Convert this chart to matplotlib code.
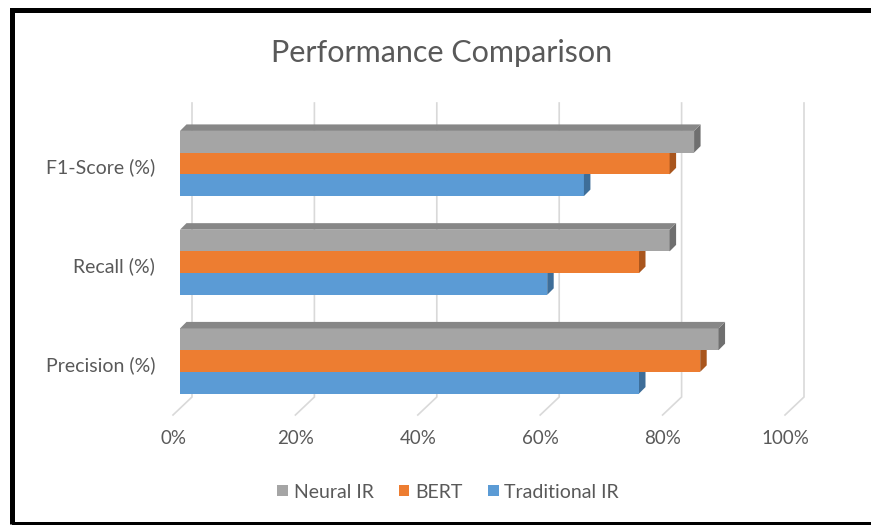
import matplotlib
matplotlib.use("Agg")
import matplotlib.pyplot as plt
import matplotlib.transforms as mtransforms
from matplotlib.patches import Polygon, Rectangle, Patch

# Data
categories = ["Precision (%)", "Recall (%)", "F1-Score (%)"]
traditional_ir = [75, 60, 66]
bert = [85, 75, 80]
neural_ir = [88, 80, 84]
x_ticks = [0, 20, 40, 60, 80, 100]
x_labels = ["0%", "20%", "40%", "60%", "80%", "100%"]

# Style
c_blue, c_blue_side = "#5B9BD5", "#3E6E99"
c_orange, c_orange_side = "#ED7D31", "#A9561E"
c_gray, c_gray_side, c_gray_top = "#A5A5A5", "#6F6F6F", "#878787"
grid_col = "#D9D9D9"
text_col = "#595959"
font = ["Lato", "DejaVu Sans"]

W, H = 871, 525
fig = plt.figure(figsize=(W / 100, H / 100), dpi=100, facecolor="white")

# pixel geometry of the plot area
px0, px100 = 180, 792          # bar front face x at 0% / 100%
sx = (px100 - px0) / 100.0     # px per percent
yc0, dy_cat = 361, 98.75       # px centre of first category, px per category
ybot_px = yc0 + dy_cat * 0.5
ytop_px = ybot_px - dy_cat * 3

ax = fig.add_axes([px0 / W, (H - ybot_px) / H, (px100 - px0) / W, (ybot_px - ytop_px) / H])
ax.set_xlim(0, 100)
ax.set_ylim(-0.5, 2.5)
ax.patch.set_alpha(0)
for s in ax.spines.values():
    s.set_visible(False)


def px_x(p):
    return p / sx


def px_y(p):
    return (yc0 - p) / dy_cat


# Back wall + floor gridlines
for v in x_ticks:
    xb = v + px_x(12)
    xf = v - px_x(7)
    ax.plot([xb, xb, xf], [px_y(103), px_y(397), px_y(415)], color=grid_col,
            lw=1.2, clip_on=False, zorder=0, solid_joinstyle="miter")

h = 0.22
ddx, ddy = px_x(6.5), 6.5 / dy_cat
series = [
    (traditional_ir, -h, c_blue, c_blue_side, "Traditional IR"),
    (bert, 0, c_orange, c_orange_side, "BERT"),
    (neural_ir, h, c_gray, c_gray_side, "Neural IR"),
]
ypos = list(range(len(categories)))
z = 2
for vals, off, col, side, name in series:
    ys = [y + off for y in ypos]
    ax.barh(ys, vals, height=h, color=col, zorder=z, linewidth=0)
    for y, v in zip(ys, vals):
        lo, hi = y - h / 2, y + h / 2
        ax.add_patch(Polygon([(v, lo), (v + ddx, lo + ddy), (v + ddx, hi + ddy), (v, hi)],
                             closed=True, facecolor=side, edgecolor="none", zorder=z))
        if name == "Neural IR":
            ax.add_patch(Polygon([(0, hi), (ddx, hi + ddy), (v + ddx, hi + ddy), (v, hi)],
                                 closed=True, facecolor=c_gray_top, edgecolor="none", zorder=z))
    z += 1

# Ticks
ax.set_xticks(x_ticks)
ax.set_xticklabels(x_labels)
ax.set_yticks(ypos)
ax.set_yticklabels(categories)
ax.tick_params(axis="both", length=0, colors=text_col)
ax.tick_params(axis="x", pad=14, labelsize=13.5)
ax.tick_params(axis="y", pad=18, labelsize=14)
for lab in ax.get_xticklabels():
    lab.set_fontfamily(font)
    lab.set_transform(lab.get_transform() + mtransforms.ScaledTranslation(-7 / 100, 0, fig.dpi_scale_trans))
for lab in ax.get_yticklabels():
    lab.set_fontfamily(font)
    lab.set_transform(lab.get_transform() + mtransforms.ScaledTranslation(0, -2.5 / 100, fig.dpi_scale_trans))

# Title
fig.text(442 / W, 1 - 53 / H, "Performance Comparison", ha="center", va="center",
         fontsize=22, color=text_col, family=font)

# Legend
handles = [Patch(facecolor=c_gray, label="Neural IR"),
           Patch(facecolor=c_orange, label="BERT"),
           Patch(facecolor=c_blue, label="Traditional IR")]
leg = fig.legend(handles=handles, loc="center", bbox_to_anchor=(448 / W, 1 - 492 / H),
                 ncol=3, frameon=False, handlelength=0.55, handleheight=0.55,
                 handletextpad=0.3, columnspacing=1.3, prop={"family": font, "size": 14})
for t in leg.get_texts():
    t.set_color(text_col)

# Outer frame
fig.patches.append(Rectangle((11.5 / W, 1 - 523.8 / H), 1.0, (523.8 - 9.5) / H,
                             transform=fig.transFigure, fill=False, edgecolor="black",
                             linewidth=5 * 0.72, zorder=10))

fig.savefig("out.png", dpi=100, facecolor="white")
